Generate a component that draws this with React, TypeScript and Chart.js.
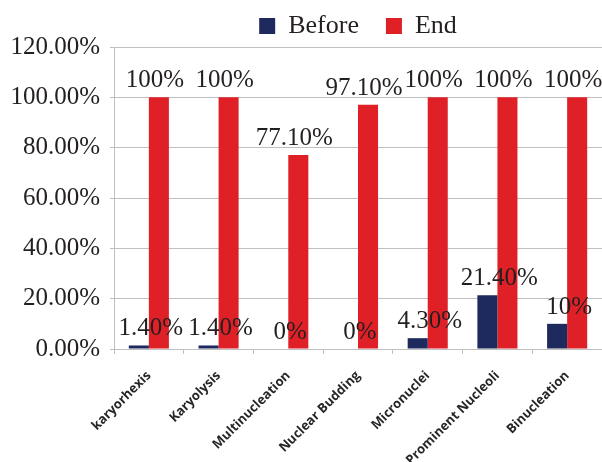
import React, { useEffect, useRef } from "react";
import { Chart, registerables } from "chart.js";

Chart.register(...registerables);

const categories = [
  "karyorhexis",
  "Karyolysis",
  "Multinucleation",
  "Nuclear Budding",
  "Micronuclei",
  "Prominent Nucleoli",
  "Binucleation",
];
const beforeValues = [1.4, 1.4, 0, 0, 4.3, 21.4, 10];
const endValues = [100, 100, 77.1, 97.1, 100, 100, 100];
const beforeLabels = ["1.40%", "1.40%", "0%", "0%", "4.30%", "21.40%", "10%"];
const endLabels = ["100%", "100%", "77.10%", "97.10%", "100%", "100%", "100%"];
const seriesNames = ["Before", "End"];
const yMin = 0;
const yMax = 120;
const yStep = 20;

const BEFORE_COLOR = "#1e2a5e";
const END_COLOR = "#e02027";
const SERIF = "'Liberation Serif'";
const SANS = "'Open Sans'";

const dataLabelPlugin = {
  id: "dataLabels",
  afterDatasetsDraw(chart: any) {
    const ctx = chart.ctx;
    const labelSets = [beforeLabels, endLabels];
    const shifts = [12, -4];
    ctx.save();
    ctx.font = `25px ${SERIF}`;
    ctx.fillStyle = "#231f20";
    ctx.textAlign = "center";
    ctx.textBaseline = "alphabetic";
    chart.data.datasets.forEach((_: any, di: number) => {
      const meta = chart.getDatasetMeta(di);
      meta.data.forEach((el: any, i: number) => {
        ctx.fillText(labelSets[di][i], el.x + shifts[di], el.y - 10);
      });
    });
    ctx.restore();
  },
};

export default function App() {
  const ref = useRef<HTMLCanvasElement | null>(null);

  useEffect(() => {
    let chart: any = null;
    let cancelled = false;
    const build = () => {
      if (cancelled || !ref.current) return;
      chart = new Chart(ref.current, {
        type: "bar",
        data: {
          labels: categories,
          datasets: [
            {
              label: seriesNames[0],
              data: beforeValues,
              backgroundColor: BEFORE_COLOR,
              categoryPercentage: 0.575,
              barPercentage: 1,
            },
            {
              label: seriesNames[1],
              data: endValues,
              backgroundColor: END_COLOR,
              categoryPercentage: 0.575,
              barPercentage: 1,
            },
          ],
        },
        options: {
          animation: false,
          responsive: false,
          maintainAspectRatio: false,
          layout: { padding: { left: 0, right: 0, top: -14, bottom: 0 } },
          plugins: {
            tooltip: { enabled: false },
            legend: {
              position: "top",
              fullSize: false,
              maxHeight: 61,
              labels: {
                boxWidth: 16,
                boxHeight: 16,
                padding: 27,
                color: "#231f20",
                font: { family: SERIF, size: 26 },
              },
            },
          },
          scales: {
            x: {
              afterFit: (scale: any) => {
                scale.height = 113;
              },
              grid: {
                display: true,
                drawOnChartArea: false,
                drawTicks: true,
                tickLength: 5,
                color: "#bfbfbf",
                offset: true,
              },
              border: { display: true, color: "#bfbfbf" },
              ticks: {
                minRotation: 45,
                maxRotation: 45,
                autoSkip: false,
                padding: 14,
                color: "#262626",
                font: { family: SANS, size: 13, weight: "bold" },
              },
            },
            y: {
              min: yMin,
              max: yMax,
              afterFit: (scale: any) => {
                scale.width = 114;
              },
              grid: {
                color: "#bfbfbf",
                tickLength: 4,
              },
              border: { display: true, color: "#bfbfbf" },
              ticks: {
                stepSize: yStep,
                padding: 10,
                color: "#231f20",
                font: { family: SERIF, size: 25 },
                callback: (v: any) => Number(v).toFixed(2) + "%",
              },
            },
          },
        },
        plugins: [dataLabelPlugin],
      });
    };
    const fonts: any = (document as any).fonts;
    if (fonts && fonts.load) {
      Promise.all([
        fonts.load("25px 'Liberation Serif'"),
        fonts.load("bold 13px 'Open Sans'"),
      ])
        .catch(() => null)
        .then(build);
    } else {
      build();
    }
    return () => {
      cancelled = true;
      if (chart) chart.destroy();
    };
  }, []);

  return (
    <div style={{ position: "fixed", left: 0, top: 0, width: 602, height: 462, background: "#fff" }}>
      <canvas ref={ref} width={602} height={462} style={{ display: "block" }} />
    </div>
  );
}
